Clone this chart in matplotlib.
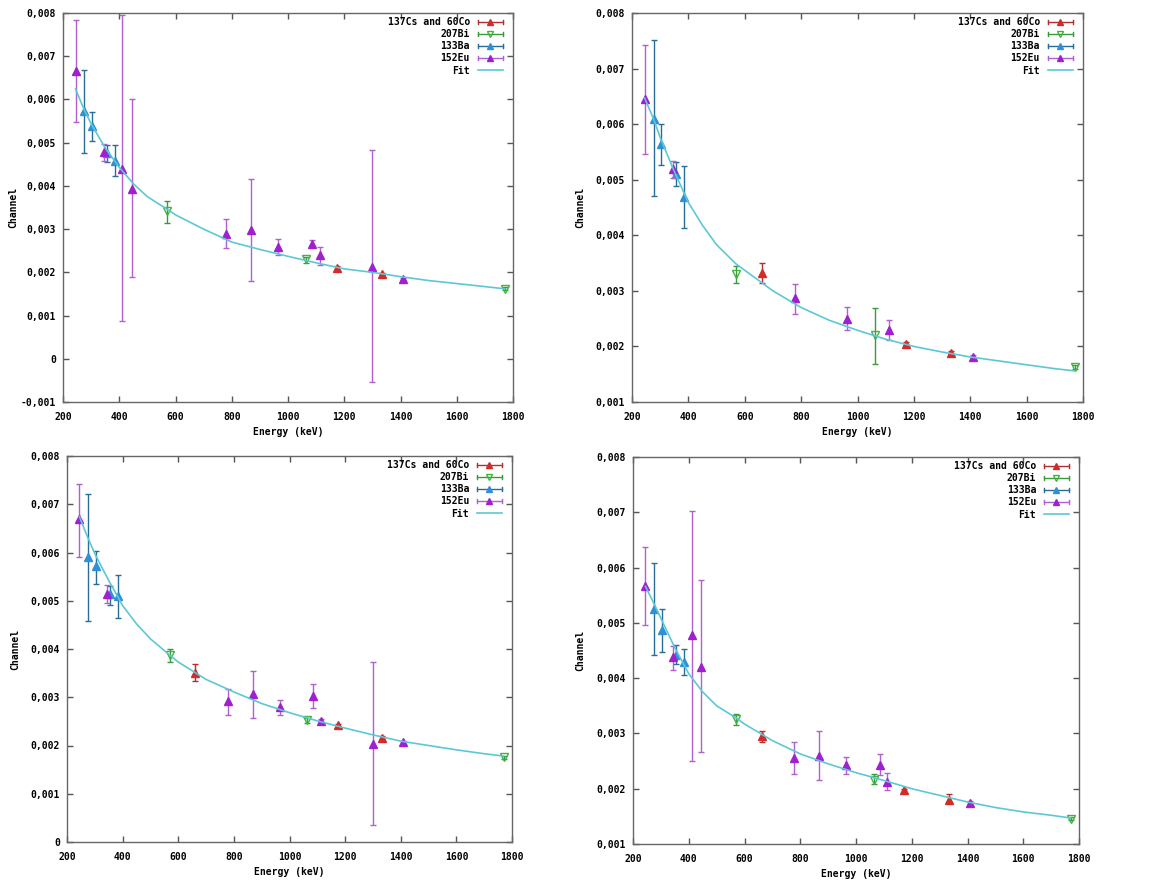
import matplotlib
matplotlib.use("Agg")
import matplotlib.pyplot as plt
import numpy as np
from matplotlib.lines import Line2D
from matplotlib.legend_handler import HandlerBase
from matplotlib.ticker import FuncFormatter, MultipleLocator

# ---------------- data ----------------
BA_E = [276.4, 302.9, 356.0, 383.8]
BI_E = [569.7, 1063.7, 1770.2]
FIT_E = [244.7, 276, 303, 350, 400, 450, 500, 570, 600, 700, 800, 900, 1000,
         1100, 1200, 1300, 1400, 1500, 1600, 1700, 1770]

# panel 1 (top left)
P1_EU_E = [244.7, 344.3, 411.1, 444.0, 778.9, 867.4, 964.1, 1085.8, 1112.1, 1299.1, 1408.0]
P1_EU_Y = [0.00665, 0.00478, 0.00439, 0.00393, 0.00289, 0.00297, 0.00258, 0.00266, 0.00240, 0.00212, 0.00185]
P1_EU_HI = [0.00783, 0.00498, 0.00795, 0.00600, 0.00324, 0.00416, 0.00276, 0.00274, 0.00258, 0.00482, 0.00188]
P1_EU_LO = [0.00548, 0.00457, 0.00087, 0.00189, 0.00256, 0.00181, 0.00239, 0.00260, 0.00218, -0.00054, 0.00182]
P1_BA_Y = [0.00574, 0.00538, 0.00477, 0.00458]
P1_BA_HI = [0.00669, 0.00571, 0.00495, 0.00494]
P1_BA_LO = [0.00476, 0.00503, 0.00455, 0.00422]
P1_BI_Y = [0.00343, 0.00230, 0.00162]
P1_BI_HI = [0.00366, 0.00236, 0.00165]
P1_BI_LO = [0.00314, 0.00222, 0.00159]
P1_CS_E = [1173.2, 1332.5]
P1_CS_Y = [0.00210, 0.00196]
P1_CS_HI = [0.00214, 0.00199]
P1_CS_LO = [0.00206, 0.00193]
P1_FIT = [0.00624, 0.00575, 0.00540, 0.00488, 0.00443, 0.00405, 0.00375, 0.00346, 0.00333,
          0.00300, 0.00270, 0.00253, 0.00237, 0.00222, 0.00208, 0.00200, 0.00190, 0.00181,
          0.00174, 0.00167, 0.00162]

# panel 2 (top right)
P2_EU_E = [244.7, 344.3, 778.9, 964.1, 1112.1, 1408.0]
P2_EU_Y = [0.00646, 0.00520, 0.00287, 0.00249, 0.00229, 0.00181]
P2_EU_HI = [0.00743, 0.00533, 0.00313, 0.00271, 0.00247, 0.00184]
P2_EU_LO = [0.00547, 0.00503, 0.00258, 0.00229, 0.00211, 0.00178]
P2_BA_Y = [0.00610, 0.00564, 0.00510, 0.00469]
P2_BA_HI = [0.00752, 0.00600, 0.00531, 0.00524]
P2_BA_LO = [0.00470, 0.00526, 0.00488, 0.00413]
P2_BI_Y = [0.00331, 0.00220, 0.00163]
P2_BI_HI = [0.00344, 0.00269, 0.00166]
P2_BI_LO = [0.00315, 0.00169, 0.00159]
P2_CS_E = [661.7, 1173.2, 1332.5]
P2_CS_Y = [0.00333, 0.00205, 0.00189]
P2_CS_HI = [0.00351, 0.00208, 0.00191]
P2_CS_LO = [0.00315, 0.00202, 0.00187]
P2_FIT = [0.00647, 0.00610, 0.00572, 0.00515, 0.00459, 0.00418, 0.00383, 0.00348, 0.00337,
          0.00300, 0.00270, 0.00247, 0.00229, 0.00213, 0.00200, 0.00190, 0.00181, 0.00174,
          0.00167, 0.00160, 0.00156]

# panel 3 (bottom left)
P3_EU_E = [244.7, 344.3, 778.9, 867.4, 964.1, 1085.8, 1112.1, 1299.1, 1408.0]
P3_EU_Y = [0.00669, 0.00515, 0.00292, 0.00307, 0.00280, 0.00303, 0.00250, 0.00204, 0.00207]
P3_EU_HI = [0.00743, 0.00533, 0.00318, 0.00354, 0.00294, 0.00327, 0.00254, 0.00373, 0.00210]
P3_EU_LO = [0.00591, 0.00496, 0.00263, 0.00257, 0.00263, 0.00278, 0.00246, 0.00035, 0.00204]
P3_BA_Y = [0.00591, 0.00572, 0.00513, 0.00509]
P3_BA_HI = [0.00722, 0.00604, 0.00531, 0.00554]
P3_BA_LO = [0.00458, 0.00535, 0.00492, 0.00465]
P3_BI_Y = [0.00387, 0.00252, 0.00176]
P3_BI_HI = [0.00399, 0.00258, 0.00179]
P3_BI_LO = [0.00374, 0.00246, 0.00173]
P3_CS_E = [661.7, 1173.2, 1332.5]
P3_CS_Y = [0.00351, 0.00242, 0.00216]
P3_CS_HI = [0.00369, 0.00245, 0.00219]
P3_CS_LO = [0.00334, 0.00239, 0.00213]
P3_FIT = [0.00674, 0.00629, 0.00594, 0.00542, 0.00490, 0.00452, 0.00421, 0.00387, 0.00373,
          0.00337, 0.00311, 0.00287, 0.00268, 0.00251, 0.00236, 0.00222, 0.00209, 0.00200,
          0.00191, 0.00183, 0.00178]

# panel 4 (bottom right)
P4_EU_E = [244.7, 344.3, 411.1, 444.0, 778.9, 867.4, 964.1, 1085.8, 1112.1, 1408.0]
P4_EU_Y = [0.00566, 0.00438, 0.00478, 0.00421, 0.00256, 0.00260, 0.00242, 0.00243, 0.00213, 0.00174]
P4_EU_HI = [0.00637, 0.00458, 0.00703, 0.00577, 0.00285, 0.00305, 0.00257, 0.00262, 0.00229, 0.00177]
P4_EU_LO = [0.00496, 0.00415, 0.00251, 0.00267, 0.00227, 0.00216, 0.00227, 0.00225, 0.00197, 0.00171]
P4_BA_Y = [0.00525, 0.00487, 0.00441, 0.00429]
P4_BA_HI = [0.00609, 0.00525, 0.00460, 0.00452]
P4_BA_LO = [0.00441, 0.00448, 0.00426, 0.00405]
P4_BI_Y = [0.00326, 0.00216, 0.00146]
P4_BI_HI = [0.00335, 0.00227, 0.00149]
P4_BI_LO = [0.00315, 0.00209, 0.00143]
P4_CS_E = [661.7, 1173.2, 1332.5]
P4_CS_Y = [0.00296, 0.00197, 0.00180]
P4_CS_HI = [0.00304, 0.00200, 0.00191]
P4_CS_LO = [0.00285, 0.00194, 0.00174]
P4_FIT = [0.00566, 0.00534, 0.00505, 0.00455, 0.00408, 0.00375, 0.00350, 0.00328, 0.00317,
          0.00287, 0.00263, 0.00245, 0.00229, 0.00215, 0.00200, 0.00188, 0.00176, 0.00166,
          0.00158, 0.00152, 0.00147]

YLIMS = [(-0.001, 0.008), (0.001, 0.008), (0.0, 0.008), (0.001, 0.008)]
LEGEND_LABELS = ["137Cs and 60Co", "207Bi", "133Ba", "152Eu", "Fit"]

# ---------------- style ----------------
C_RED, C_RED_BAR = "#d42a2a", "#b03030"
C_GRN, C_GRN_BAR = "#3fb43f", "#3a9a3a"
C_BLU, C_BLU_BAR = "#2e90d6", "#2a6e98"
C_PUR, C_PUR_BAR = "#a020d0", "#b060d0"
C_FIT = "#5cc8d6"
plt.rcParams["font.family"] = "DejaVu Sans Mono"
plt.rcParams["font.weight"] = "bold"
plt.rcParams["font.size"] = 7


class HandlerHBar(HandlerBase):
    def __init__(self, color, barcolor, marker, mfc):
        super().__init__()
        self.color, self.barcolor, self.marker, self.mfc = color, barcolor, marker, mfc

    def create_artists(self, legend, orig_handle, xdescent, ydescent, width,
                       height, fontsize, trans):
        y = height / 2 - ydescent
        x0, x1 = -xdescent, -xdescent + width
        cap = height * 0.3
        arts = [Line2D([x0, x1], [y, y], color=self.barcolor, lw=1, transform=trans),
                Line2D([x0, x0], [y - cap, y + cap], color=self.barcolor, lw=1, transform=trans),
                Line2D([x1, x1], [y - cap, y + cap], color=self.barcolor, lw=1, transform=trans),
                Line2D([(x0 + x1) / 2], [y], marker=self.marker, color=self.color, ms=4.5,
                       mfc=self.mfc, mec=self.color, mew=1, ls="none", transform=trans)]
        return arts


def fmt(v, pos):
    if abs(v) < 1e-9:
        return "0"
    return f"{v:.3f}".replace(".", ",")


positions = [
    [63 / 1152, (884 - 402) / 884, 450 / 1152, 389 / 884],
    [632 / 1152, (884 - 402) / 884, 451 / 1152, 389 / 884],
    [67 / 1152, (884 - 842) / 884, 445 / 1152, 386 / 884],
    [633 / 1152, (884 - 844) / 884, 446 / 1152, 387 / 884],
]

panels = [
    (P1_EU_E, P1_EU_Y, P1_EU_HI, P1_EU_LO, P1_BA_Y, P1_BA_HI, P1_BA_LO, P1_BI_Y, P1_BI_HI, P1_BI_LO,
     P1_CS_E, P1_CS_Y, P1_CS_HI, P1_CS_LO, P1_FIT),
    (P2_EU_E, P2_EU_Y, P2_EU_HI, P2_EU_LO, P2_BA_Y, P2_BA_HI, P2_BA_LO, P2_BI_Y, P2_BI_HI, P2_BI_LO,
     P2_CS_E, P2_CS_Y, P2_CS_HI, P2_CS_LO, P2_FIT),
    (P3_EU_E, P3_EU_Y, P3_EU_HI, P3_EU_LO, P3_BA_Y, P3_BA_HI, P3_BA_LO, P3_BI_Y, P3_BI_HI, P3_BI_LO,
     P3_CS_E, P3_CS_Y, P3_CS_HI, P3_CS_LO, P3_FIT),
    (P4_EU_E, P4_EU_Y, P4_EU_HI, P4_EU_LO, P4_BA_Y, P4_BA_HI, P4_BA_LO, P4_BI_Y, P4_BI_HI, P4_BI_LO,
     P4_CS_E, P4_CS_Y, P4_CS_HI, P4_CS_LO, P4_FIT),
]
ylabel_x = [-0.100, -0.104, -0.106, -0.106]

fig = plt.figure(figsize=(11.52, 8.84), dpi=100)


def errs(y, hi, lo):
    y, hi, lo = map(np.asarray, (y, hi, lo))
    return [y - lo, hi - y]


for i, (pos, data) in enumerate(zip(positions, panels)):
    (eu_e, eu_y, eu_hi, eu_lo, ba_y, ba_hi, ba_lo, bi_y, bi_hi, bi_lo,
     cs_e, cs_y, cs_hi, cs_lo, fit) = data
    ax = fig.add_axes(pos)
    series = [
        (cs_e, cs_y, cs_hi, cs_lo, C_RED, C_RED_BAR, "^", C_RED),
        (BI_E, bi_y, bi_hi, bi_lo, C_GRN, C_GRN_BAR, "v", "none"),
        (BA_E, ba_y, ba_hi, ba_lo, C_BLU, C_BLU_BAR, "^", C_BLU),
        (eu_e, eu_y, eu_hi, eu_lo, C_PUR, C_PUR_BAR, "^", C_PUR),
    ]
    for e, y, hi, lo, c, cb, m, mfc in series:
        ax.errorbar(e, y, yerr=errs(y, hi, lo), fmt="none", ecolor=cb,
                    elinewidth=1, capsize=2.4, capthick=1)
        ax.plot(e, y, ls="none", marker=m, color=c, mfc=mfc, mec=c, ms=5.5, mew=1)
    ax.plot(FIT_E, fit, color=C_FIT, lw=1.2)

    ax.set_xlim(200, 1800)
    ax.set_ylim(*YLIMS[i])
    ax.xaxis.set_major_locator(MultipleLocator(200))
    ax.yaxis.set_major_locator(MultipleLocator(0.001))
    ax.yaxis.set_major_formatter(FuncFormatter(fmt))
    ax.tick_params(direction="in", length=4, width=1, color="#555555",
                   top=True, right=True, labelsize=7)
    ax.tick_params(axis="x", pad=7)
    ax.tick_params(axis="y", pad=5)
    for s in ax.spines.values():
        s.set_color("#666666")
        s.set_linewidth(1)
    ax.set_xlabel("Energy (keV)", fontsize=7, fontweight="bold")
    ax.set_ylabel("Channel", fontsize=7, fontweight="bold")
    ax.xaxis.set_label_coords(0.5, -0.064)
    ax.yaxis.set_label_coords(ylabel_x[i], 0.5)

    handles = [Line2D([], []) for _ in range(5)]
    hmap = {
        handles[0]: HandlerHBar(C_RED, C_RED_BAR, "^", C_RED),
        handles[1]: HandlerHBar(C_GRN, C_GRN_BAR, "v", "none"),
        handles[2]: HandlerHBar(C_BLU, C_BLU_BAR, "^", C_BLU),
        handles[3]: HandlerHBar(C_PUR, C_PUR_BAR, "^", C_PUR),
    }
    handles[4] = Line2D([], [], color=C_FIT, lw=1.2)
    ax.legend(handles, LEGEND_LABELS, handler_map=hmap, loc="upper right",
              bbox_to_anchor=(1 - 10 / 450, 1 - 4 / 389),
              frameon=False, markerfirst=False, handlelength=2.6,
              handletextpad=0.8, labelspacing=0.22, borderaxespad=0.0, borderpad=0.0,
              prop=dict(family="DejaVu Sans Mono", weight="bold", size=7))

fig.savefig("out.png", dpi=100, facecolor="white")
